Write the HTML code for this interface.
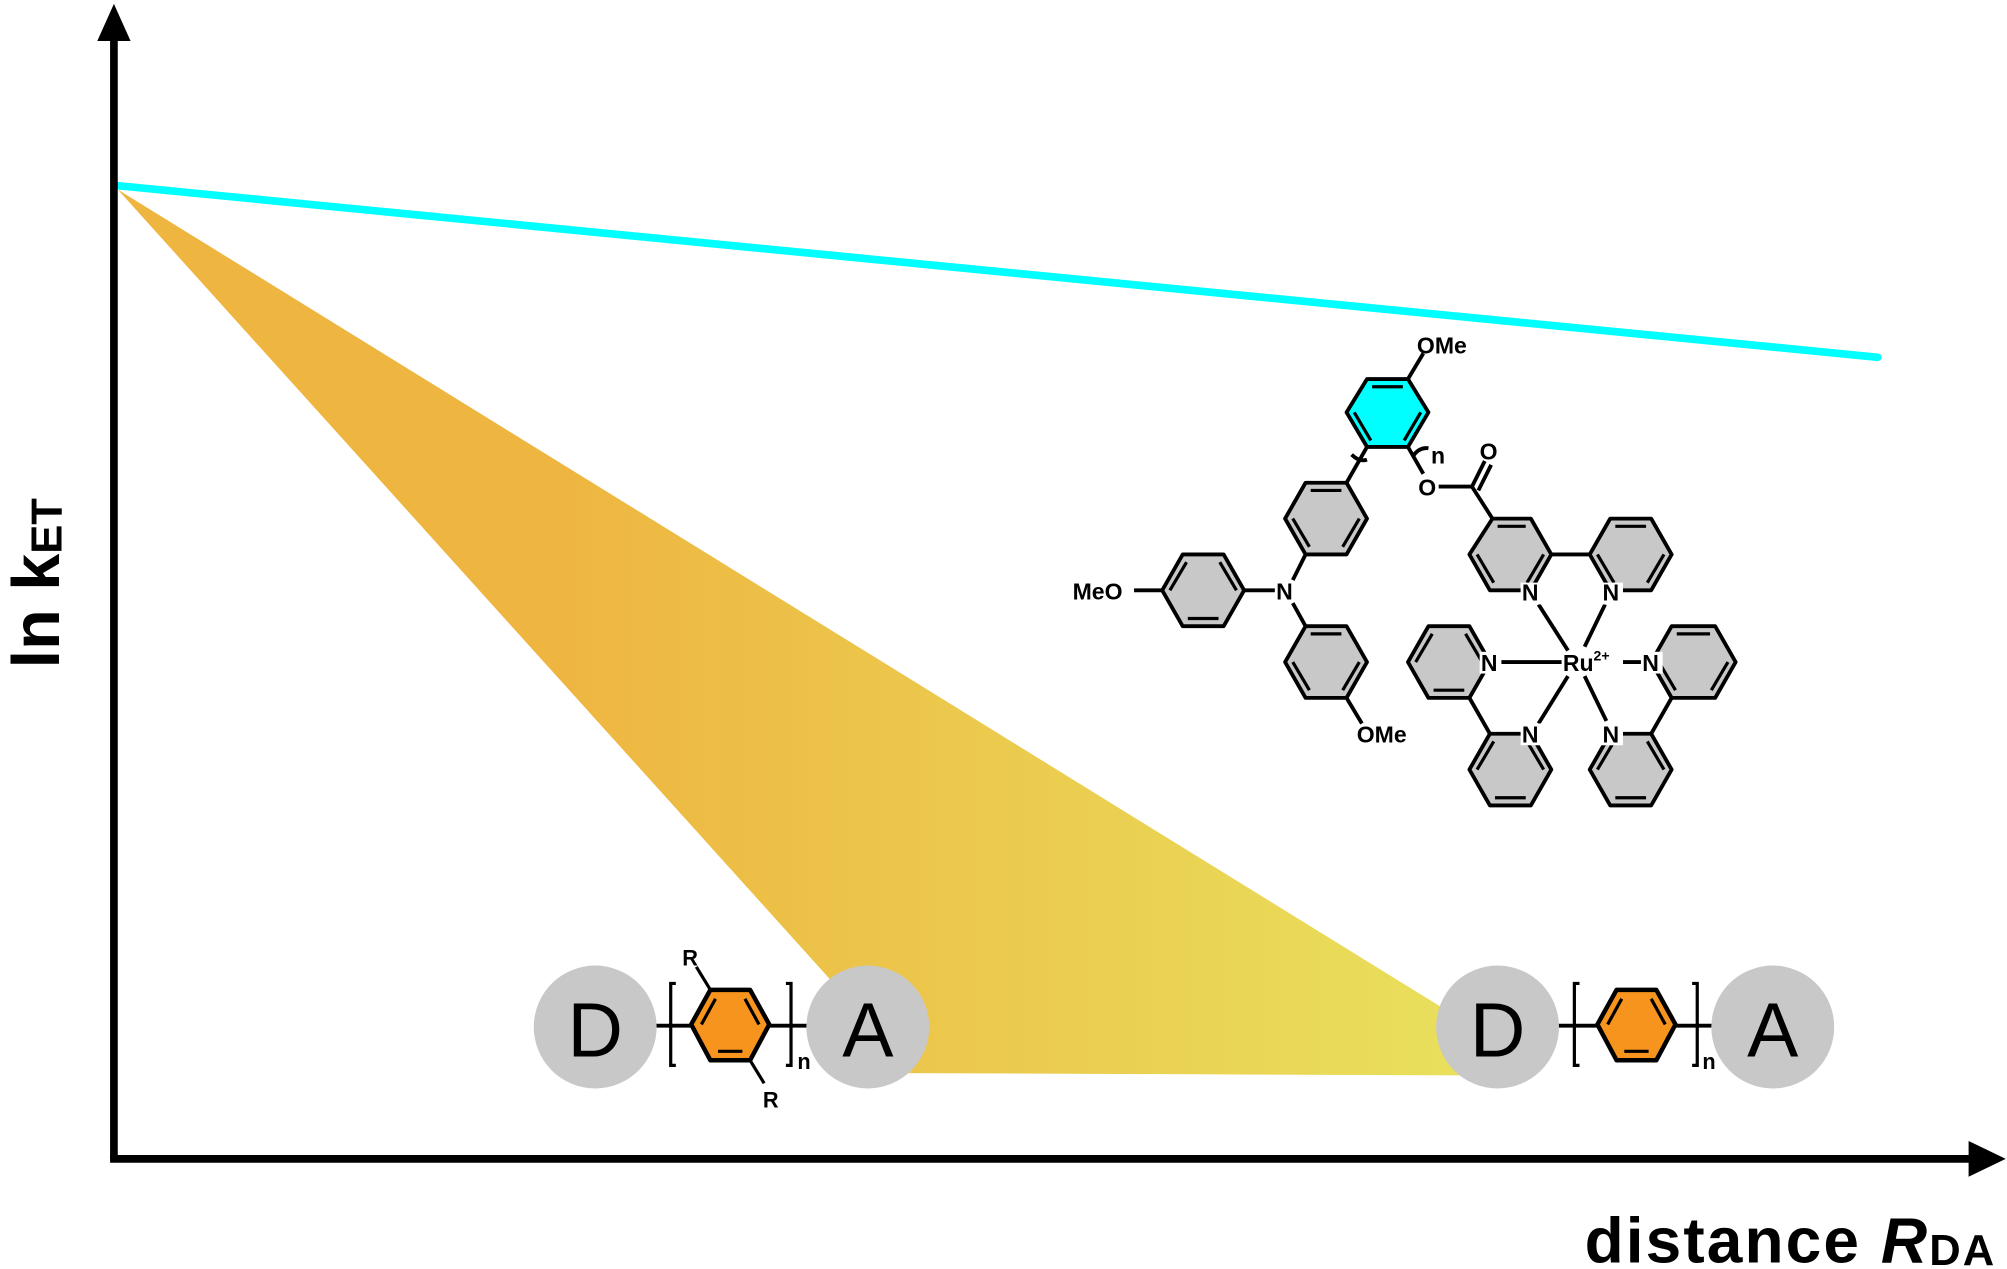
<!DOCTYPE html>
<html><head><meta charset="utf-8"><style>html,body{margin:0;padding:0;background:#fff}svg{display:block}</style></head>
<body>
<svg width="2007" height="1269" viewBox="0 0 1568 991" preserveAspectRatio="none" xmlns="http://www.w3.org/2000/svg" font-family="Liberation Sans, sans-serif">
<defs>
<linearGradient id="g" x1="0" y1="0" x2="1" y2="0"><stop offset="0.3" stop-color="#eeb540"/><stop offset="1" stop-color="#e8e35e"/></linearGradient>
</defs>
<rect width="1568" height="991" fill="#fff"/>
<polygon points="92,148 655,772 705,838 1195,840 1135,792" fill="url(#g)"/>
<line x1="92" y1="145" x2="1467" y2="279" stroke="#00ffff" stroke-width="6" stroke-linecap="round"/>
<line x1="89" y1="25" x2="89" y2="905" stroke="#000" stroke-width="6"/>
<polygon points="76,32 102,32 89,3" fill="#000"/>
<line x1="86" y1="905" x2="1542" y2="905" stroke="#000" stroke-width="6"/>
<polygon points="1538,891 1538,919 1567,905" fill="#000"/>
<text x="1238" y="986" font-size="50" font-weight="bold" textLength="320">distance <tspan font-style="italic">R</tspan><tspan font-size="34" dy="2">DA</tspan></text>
<text transform="translate(46,522) rotate(-90)" font-size="52" font-weight="bold">ln k<tspan font-size="34" dy="2">ET</tspan></text>

<g stroke="#000" stroke-width="3">
<line x1="500" y1="801" x2="650" y2="801"/>
<line x1="1205" y1="801" x2="1355" y2="801"/>
</g>
<circle cx="465" cy="802" r="48" fill="#c8c8c8"/>
<circle cx="678" cy="802" r="48" fill="#c8c8c8"/>
<circle cx="1170" cy="802" r="48" fill="#c8c8c8"/>
<circle cx="1385" cy="802" r="48" fill="#c8c8c8"/>
<g font-size="60" text-anchor="middle"><text x="465" y="825">D</text><text x="678" y="825">A</text><text x="1170" y="825">D</text><text x="1385" y="825">A</text></g>
<g fill="#f7941d" stroke="#000" stroke-width="3.5" stroke-linejoin="round">
<polygon points="540,800 555,773 586,773 601,800 586,828 555,828"/>
<polygon points="1248,800 1263,773 1294,773 1309,800 1294,828 1263,828"/>
</g>
<g stroke="#000" stroke-width="2.5" fill="none">
<line x1="548" y1="800" x2="559" y2="780"/><line x1="582" y1="780" x2="593" y2="800"/><line x1="561" y1="821" x2="580" y2="821"/>
<line x1="1256" y1="800" x2="1267" y2="780"/><line x1="1290" y1="780" x2="1301" y2="800"/><line x1="1269" y1="821" x2="1288" y2="821"/>
<line x1="555" y1="773" x2="544" y2="755"/><line x1="586" y1="828" x2="597" y2="846"/>
<polyline points="528,768 524,768 524,832 528,832"/><polyline points="614,768 618,768 618,832 614,832"/>
<polyline points="1234,768 1230,768 1230,832 1234,832"/><polyline points="1322,768 1326,768 1326,832 1322,832"/>
</g>
<g font-size="17" font-weight="bold"><text x="533" y="754">R</text><text x="596" y="865">R</text><text x="623" y="835">n</text><text x="1330" y="835">n</text></g>

<g stroke="#000" stroke-width="3" stroke-linejoin="round" fill="#c8c8c8">
<polygon fill="#00ffff" points="1068,296 1100,296 1116,322 1100,349 1068,349 1052,322"/>
<polygon points="1020,377 1052,377 1068,405 1052,433 1020,433 1004,405"/>
<polygon points="924,433 956,433 972,461 956,489 924,489 908,461"/>
<polygon points="1020,489 1052,489 1068,517 1052,545 1020,545 1004,517"/>
<polygon points="1166,405 1196,405 1212,433 1196,461 1164,461 1148,433"/>
<polygon points="1258,405 1290,405 1306,433 1290,461 1258,461 1242,433"/>
<polygon points="1116,489 1148,489 1164,517 1148,545 1116,545 1100,517"/>
<polygon points="1164,573 1196,573 1212,601 1196,629 1164,629 1148,601"/>
<polygon points="1306,489 1340,489 1356,517 1340,545 1306,545 1290,517"/>
<polygon points="1258,573 1290,573 1306,601 1290,629 1258,629 1242,601"/>
</g>
<g stroke="#000" stroke-width="3" fill="none">
<line x1="1100" y1="296" x2="1112" y2="276"/>
<line x1="1052" y1="377" x2="1068" y2="349"/>
<line x1="1100" y1="349" x2="1112" y2="370"/>
<line x1="1124" y1="380" x2="1150" y2="380"/><line x1="1150" y1="380" x2="1166" y2="405"/>
<line x1="1150" y1="380" x2="1160" y2="360"/><line x1="1155" y1="383" x2="1165" y2="363"/>
<line x1="996" y1="461" x2="972" y2="461"/>
<line x1="1010" y1="453" x2="1020" y2="433"/><line x1="1010" y1="471" x2="1020" y2="489"/>
<line x1="886" y1="461" x2="908" y2="461"/>
<line x1="1052" y1="545" x2="1064" y2="565"/>
<line x1="1212" y1="433" x2="1242" y2="433"/>
<line x1="1148" y1="545" x2="1164" y2="573"/>
<line x1="1306" y1="545" x2="1290" y2="573"/>
<line x1="1202" y1="472" x2="1225" y2="508"/><line x1="1254" y1="472" x2="1238" y2="505"/>
<line x1="1170" y1="517" x2="1220" y2="517"/><line x1="1268" y1="517" x2="1285" y2="517"/>
<line x1="1225" y1="528" x2="1202" y2="565"/><line x1="1238" y1="528" x2="1255" y2="563"/>
<path d="M1056,355 q6,6 12,4"/><path d="M1104,356 q5,-7 12,-6"/>
<g stroke-width="2.5">
<line x1="1072" y1="302" x2="1096" y2="302"/><line x1="1058" y1="322" x2="1071" y2="344"/><line x1="1110" y1="322" x2="1097" y2="344"/>
<line x1="1024" y1="383" x2="1048" y2="383"/><line x1="1010" y1="405" x2="1023" y2="427"/><line x1="1062" y1="405" x2="1049" y2="427"/>
<line x1="928" y1="483" x2="952" y2="483"/><line x1="914" y1="461" x2="927" y2="439"/><line x1="966" y1="461" x2="953" y2="439"/>
<line x1="1024" y1="495" x2="1048" y2="495"/><line x1="1010" y1="517" x2="1023" y2="539"/><line x1="1062" y1="517" x2="1049" y2="539"/>
<line x1="1170" y1="411" x2="1192" y2="411"/><line x1="1154" y1="433" x2="1167" y2="455"/><line x1="1206" y1="433" x2="1193" y2="455"/>
<line x1="1262" y1="411" x2="1286" y2="411"/><line x1="1248" y1="433" x2="1261" y2="455"/><line x1="1300" y1="433" x2="1287" y2="455"/>
<line x1="1120" y1="539" x2="1144" y2="539"/><line x1="1106" y1="517" x2="1119" y2="495"/><line x1="1158" y1="517" x2="1145" y2="495"/>
<line x1="1168" y1="623" x2="1192" y2="623"/><line x1="1154" y1="601" x2="1167" y2="579"/><line x1="1206" y1="601" x2="1193" y2="579"/>
<line x1="1310" y1="495" x2="1336" y2="495"/><line x1="1296" y1="517" x2="1309" y2="539"/><line x1="1350" y1="517" x2="1337" y2="539"/>
<line x1="1262" y1="623" x2="1286" y2="623"/><line x1="1248" y1="601" x2="1261" y2="579"/><line x1="1300" y1="601" x2="1287" y2="579"/>
</g>
</g>
<g font-size="18" font-weight="bold" fill="#000">
<text x="1107" y="276">OMe</text>
<text x="1118" y="362">n</text>
<text x="1108" y="387">O</text>
<text x="1156" y="359">O</text>
<text x="838" y="468">MeO</text>
<text x="997" y="468">N</text>
<text x="1060" y="580">OMe</text>
<rect x="1188" y="455" width="17" height="17" fill="#fff"/><text x="1189" y="469">N</text>
<rect x="1251" y="455" width="17" height="17" fill="#fff"/><text x="1252" y="469">N</text>
<rect x="1156" y="509" width="17" height="17" fill="#fff"/><text x="1157" y="524">N</text>
<rect x="1282" y="509" width="17" height="17" fill="#fff"/><text x="1283" y="524">N</text>
<rect x="1188" y="565" width="17" height="17" fill="#fff"/><text x="1189" y="580">N</text>
<rect x="1251" y="565" width="17" height="17" fill="#fff"/><text x="1252" y="580">N</text>
<text x="1221" y="524">Ru<tspan font-size="11" dy="-8">2+</tspan></text>
</g>
</svg>
</body></html>
